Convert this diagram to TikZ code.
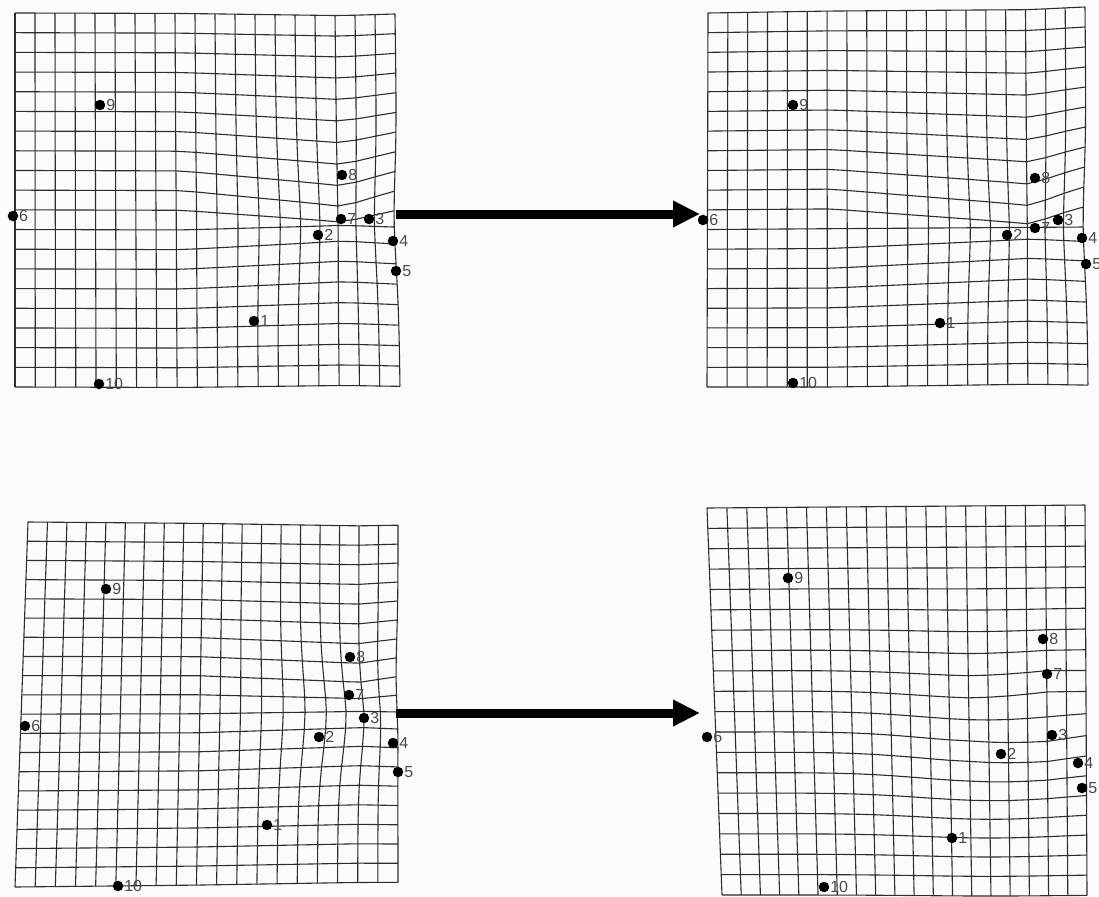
\documentclass[tikz,border=0pt]{standalone}
\usepackage{fontspec}
\setmainfont{Liberation Sans}
\usetikzlibrary{arrows.meta}
\definecolor{bgcol}{RGB}{253,250,253}
\definecolor{gridcol}{RGB}{45,45,45}
\definecolor{labcol}{RGB}{75,75,75}
\tikzset{
  gridline/.style={draw=gridcol, line width=1.1pt, line join=round},
  lmdot/.style={circle, fill=black, inner sep=0pt, minimum size=10.5pt},
  lmlab/.style={text=labcol, font=\fontsize{16}{16}\selectfont, inner sep=0.3pt},
  bigarrow/.style={line width=9pt, -{Triangle[length=27pt,width=25pt]}},
  declare function={
    gA(\uu,\vv)=exp(max(-30,-0.5*((\uu-\wcu)*(\uu-\wcu)+(\vv-\wcv)*(\vv-\wcv))/(\wsg*\wsg)));
    gB(\uu,\vv)=exp(max(-30,-0.5*((\uu-\wbu)*(\uu-\wbu)+(\vv-\wbv)*(\vv-\wbv))/(\wbs*\wbs)));
    tent(\uu,\vv)=max(0,min(1-(\wcu-\uu)/\wLl,1-(\uu-\wcu)/(\wLr+\wLrb*(\vv>\wcv))));
    clip(\xx)=max(-4,min(4,\xx));
    amp(\vv)=\wA+(\wAb-\wA)*(\vv>\wcv);
    dvp(\uu,\vv)=-amp(\vv)*tanh(clip((\vv-\wcv)/\ww))*exp(max(-30,-0.5*(\vv-\wcv)*(\vv-\wcv)/(\wsv*\wsv)))*tent(\uu,\vv);
    wu(\uu,\vv)=\uu+\wku*(\wcu-\uu)*gA(\uu,\vv)+\wbdu*gB(\uu,\vv);
    wv(\uu,\vv)=\vv+dvp(\uu,\vv)+\wbdv*gB(\uu,\vv);
    blx(\ss,\tt)=\wax+\wbx*\ss/19+\wcx*\tt/19+\wdx*\ss*\tt/361;
    bly(\ss,\tt)=\way+\wby*\ss/19+\wcy*\tt/19+\wdy*\ss*\tt/361;
  }
}
\newcommand\setcorners[8]{\def\wax{#1}\def\wbx{#2}\def\wcx{#3}\def\wdx{#4}\def\way{#5}\def\wby{#6}\def\wcy{#7}\def\wdy{#8}}
% centre u, centre v, amplitude above, amplitude below, tanh width, v falloff, left length, right length, extra right length below
\newcommand\setpinch[9]{\def\wcu{#1}\def\wcv{#2}\def\wA{#3}\def\wAb{#4}\def\ww{#5}\def\wsv{#6}\def\wLl{#7}\def\wLr{#8}\def\wLrb{#9}}
\newcommand\setupinch[2]{\def\wku{#1}\def\wsg{#2}}
\newcommand\setbump[5]{\def\wbu{#1}\def\wbv{#2}\def\wbs{#3}\def\wbdu{#4}\def\wbdv{#5}}
\newcommand\gridpanel{%
  \foreach \i in {0,...,19}{%
    \foreach \j in {0,...,19}{%
      \pgfmathsetmacro\mU{wu(\j,\i)}%
      \pgfmathsetmacro\mV{wv(\j,\i)}%
      \pgfmathsetmacro\mX{blx(\mU,\mV)}%
      \pgfmathsetmacro\mY{bly(\mU,\mV)}%
      \coordinate (g\i-\j) at (\mX,\mY);
    }}%
  \foreach \i in {0,...,19}{%
    \draw[gridline] (g\i-0) \foreach \j in {1,...,19}{ -- (g\i-\j)};
    \draw[gridline] (g0-\i) \foreach \j in {1,...,19}{ -- (g\j-\i)};
  }}
\newcommand\lm[4]{\node[lmdot, label={[lmlab, label distance=0.3pt]east:#4}] (#1) at (#2,#3) {};}
\begin{document}
\begin{tikzpicture}[x=1pt,y=-1pt]
\fill[bgcol] (0,0) rectangle (1099,896);
\useasboundingbox (0,0) rectangle (1099,896);

% ---------- panel 1 (top left)
\begin{scope}
\setcorners{15}{380}{0}{5}{13}{1}{374}{0}
\setpinch{16.3}{10.6}{0.85}{0.5}{0.7}{5}{8}{2.7}{6}
\setupinch{0.12}{2.5}
\setbump{10}{10}{2}{0}{0}
\gridpanel
\end{scope}
\lm{a1}{254}{321}{1}
\lm{a2}{318}{235}{2}
\lm{a3}{369}{219}{3}
\lm{a4}{393}{241}{4}
\lm{a5}{396}{271}{5}
\lm{a6}{13}{216}{6}
\lm{a7}{341}{219}{7}
\lm{a8}{342}{175}{8}
\lm{a9}{100}{105}{9}
\lm{a10}{99}{384}{10}

% ---------- panel 2 (top right)
\begin{scope}
\setcorners{708}{377}{-1}{4}{13}{-6}{374}{6}
\setpinch{16.2}{11}{1.0}{0.5}{0.8}{5}{10}{2.7}{6}
\setupinch{0.12}{2.5}
\setbump{10}{10}{2}{0}{0}
\gridpanel
\end{scope}
\lm{b1}{940}{323}{1}
\lm{b2}{1007}{235}{2}
\lm{b3}{1058}{220}{3}
\lm{b4}{1082}{238}{4}
\lm{b5}{1086}{264}{5}
\lm{b6}{703}{220}{6}
\lm{b7}{1035}{228}{7}
\lm{b8}{1035}{178}{8}
\lm{b9}{793}{105}{9}
\lm{b10}{793}{383}{10}

% ---------- panel 3 (bottom left)
\begin{scope}
\setcorners{28}{370}{-13}{13}{522}{3}{365}{-7}
\setpinch{16.9}{9.6}{0.4}{0.3}{1}{5}{8}{2.5}{4}
\setupinch{0.15}{2.5}
\setbump{17}{10.5}{2}{0.3}{0}
\gridpanel
\end{scope}
\lm{c1}{267}{825}{1}
\lm{c2}{319}{737}{2}
\lm{c3}{364}{718}{3}
\lm{c4}{393}{743}{4}
\lm{c5}{398}{772}{5}
\lm{c6}{25}{726}{6}
\lm{c7}{349}{695}{7}
\lm{c8}{350}{657}{8}
\lm{c9}{106}{589}{9}
\lm{c10}{118}{886}{10}

% ---------- panel 4 (bottom right)
\begin{scope}
\setcorners{707}{378}{15}{-13}{508}{-3}{387}{3}
\setpinch{17}{10}{-0.25}{-0.25}{1}{2}{4}{3}{0}
\setupinch{0}{2}
\setbump{14}{11.5}{3.5}{0}{0.5}
\gridpanel
\end{scope}
\lm{d1}{952}{838}{1}
\lm{d2}{1001}{754}{2}
\lm{d3}{1052}{735}{3}
\lm{d4}{1078}{763}{4}
\lm{d5}{1082}{788}{5}
\lm{d6}{707}{737}{6}
\lm{d7}{1047}{674}{7}
\lm{d8}{1043}{639}{8}
\lm{d9}{788}{578}{9}
\lm{d10}{824}{887}{10}

% ---------- arrows
\coordinate (s1) at (396,214);
\coordinate (e1) at (700,214);
\coordinate (s2) at (396,713);
\coordinate (e2) at (700,713);
\draw[bigarrow] (s1) -- (e1);
\draw[bigarrow] (s2) -- (e2);
\end{tikzpicture}
\end{document}
